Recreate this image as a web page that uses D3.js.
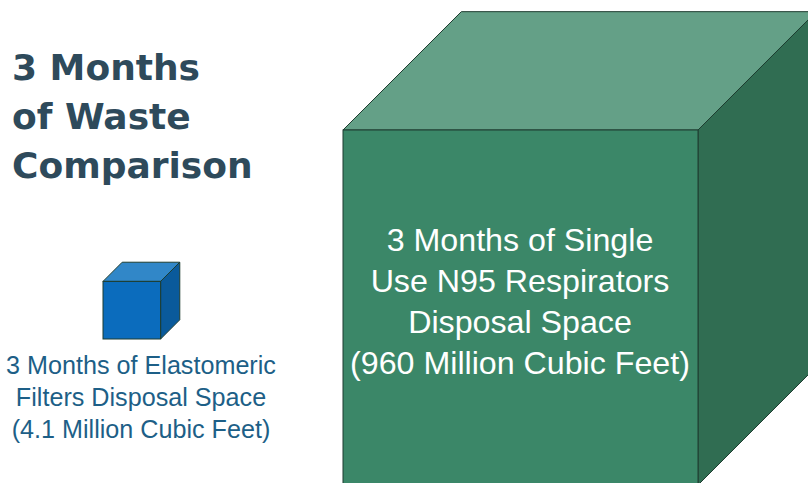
<!DOCTYPE html>
<html>
<head>
<meta charset="utf-8">
<script src="https://cdn.jsdelivr.net/npm/d3@7"></script>
<style>
  html, body { margin: 0; padding: 0; background: #fff; }
  svg { display: block; }
</style>
</head>
<body>
<div id="chart"></div>
<script>
// data
const titleLines = ['3 Months', 'of Waste', 'Comparison'];
const categories = ['Elastomeric', 'N95'];
const volumes = [4.1, 960]; // million cubic feet
const labels = [
  ['3 Months of Elastomeric', 'Filters Disposal Space', '(4.1 Million Cubic Feet)'],
  ['3 Months of Single', 'Use N95 Respirators', 'Disposal Space', '(960 Million Cubic Feet)']
];

const width = 808, height = 483;
const svg = d3.select('#chart').append('svg')
  .attr('width', width)
  .attr('height', height);

// cube edge proportional to cube root of volume
const side = d3.scalePow().exponent(1 / 3)
  .domain([0, d3.max(volumes)])
  .range([0, 355]);

const colors = {
  Elastomeric: {front: '#0b6cbd', top: '#3187c8', right: '#0a5a9b', text: '#1d5f87'},
  N95: {front: '#3b8768', top: '#64a087', right: '#306d52', text: '#ffffff'}
};

// where each cube sits (front face left x, bottom y)
const anchors = {
  Elastomeric: {x: 103, bottom: 339},
  N95: {x: 343, bottom: 485}
};

const cubes = categories.map((c, i) => {
  const s = side(volumes[i]);
  return {name: c, s: s, d: s / 3, x: anchors[c].x, bottom: anchors[c].bottom, lines: labels[i]};
});

const g = svg.selectAll('g.cube').data(cubes).enter().append('g').attr('class', 'cube');

g.append('polygon')
  .attr('points', d => {
    const t = d.bottom - d.s;
    return [[d.x, t], [d.x + d.d, t - d.d], [d.x + d.s + d.d, t - d.d], [d.x + d.s, t]].join(' ');
  })
  .attr('fill', d => colors[d.name].top)
  .attr('stroke', '#1e3d30').attr('stroke-width', 1).attr('stroke-linejoin', 'round');

g.append('polygon')
  .attr('points', d => {
    const t = d.bottom - d.s;
    return [[d.x + d.s, t], [d.x + d.s + d.d, t - d.d], [d.x + d.s + d.d, d.bottom - d.d], [d.x + d.s, d.bottom]].join(' ');
  })
  .attr('fill', d => colors[d.name].right)
  .attr('stroke', '#1e3d30').attr('stroke-width', 1).attr('stroke-linejoin', 'round');

g.append('rect')
  .attr('x', d => d.x)
  .attr('y', d => d.bottom - d.s)
  .attr('width', d => d.s)
  .attr('height', d => d.s)
  .attr('fill', d => colors[d.name].front)
  .attr('stroke', '#1e3d30').attr('stroke-width', 1);

// title
svg.append('text')
  .attr('font-family', 'DejaVu Sans')
  .attr('font-weight', 'bold')
  .attr('font-size', 36)
  .attr('fill', '#2e4a5b')
  .selectAll('tspan').data(titleLines).enter().append('tspan')
  .attr('x', 12)
  .attr('y', (d, i) => 80 + i * 49)
  .text(d => d);

// multi-line centred label, font size fitted so widest line = maxW
function label(lines, cx, y0, step, maxW, fill) {
  const t = svg.append('text')
    .attr('font-family', 'Liberation Sans')
    .attr('font-size', 20)
    .attr('text-anchor', 'middle')
    .attr('fill', fill);
  t.selectAll('tspan').data(lines).enter().append('tspan')
    .attr('x', cx)
    .attr('y', (d, i) => y0 + i * step)
    .text(d => d);
  let w = 0;
  t.selectAll('tspan').each(function(){ w = Math.max(w, this.getComputedTextLength()); });
  t.attr('font-size', 20 * maxW / w);
}

label(cubes[0].lines, 141, 374, 32, 270, colors.Elastomeric.text);
label(cubes[1].lines, 520, 251, 41, 340, colors.N95.text);
</script>
</body>
</html>
